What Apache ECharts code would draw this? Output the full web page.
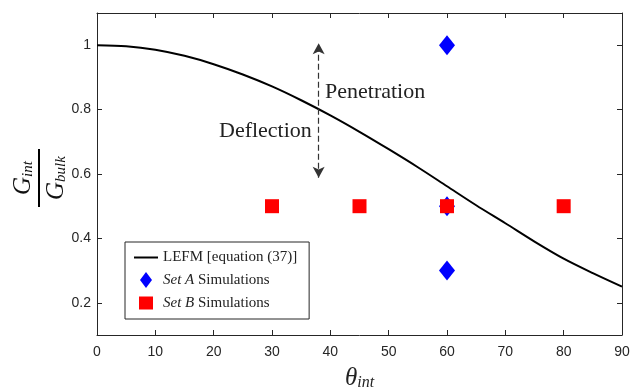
<!DOCTYPE html>
<html><head><meta charset="utf-8">
<script src="https://cdn.jsdelivr.net/npm/echarts@6/dist/echarts.min.js"></script>
<style>html,body{margin:0;padding:0;background:#fff}#c{width:631px;height:390px}</style>
</head><body><div id="c"></div>
<script>
const xTicks = [0,10,20,30,40,50,60,70,80,90];
const yTicks = [0.2,0.4,0.6,0.8,1.0];
const lefmTheta = [0,5,10,15,20,25,30,35,40,45,50,55,60,65,70,75,80,85,90];
const lefmValue = [1.000,0.997,0.986,0.967,0.941,0.909,0.872,0.829,0.782,0.731,0.677,0.621,0.562,0.503,0.447,0.390,0.337,0.292,0.250];
const setATheta = [60,60,60];
const setAValue = [1.0,0.5,0.3];
const setBTheta = [30,45,60,80];
const setBValue = [0.5,0.5,0.5,0.5];
const arrowTheta = 38;
const arrowTop = 1.006;
const arrowBottom = 0.588;

const serif = '"Liberation Serif","DejaVu Serif",serif';
const sans = '"Liberation Sans",Arial,sans-serif';
const axisCol = '#262626';

const chart = echarts.init(document.getElementById('c'), null, {renderer:'canvas'});
const zip = (a,b)=>a.map((v,i)=>[v,b[i]]);

const baseAxis = {
  axisLine:{show:true,onZero:false,lineStyle:{color:axisCol,width:1}},
  axisTick:{show:true,inside:true,length:5,lineStyle:{color:axisCol}},
  splitLine:{show:false}
};

chart.setOption({
  animation:false,
  backgroundColor:'#fff',
  grid:{left:97,right:9,top:13,bottom:55,containLabel:false,outerBoundsMode:'none'},
  xAxis:[
    Object.assign({}, baseAxis, {type:'value',min:0,max:90,interval:10,position:'bottom',
      axisLabel:{color:axisCol,fontFamily:sans,fontSize:14,margin:10,customValues:xTicks},
      axisTick:Object.assign({},baseAxis.axisTick,{customValues:xTicks}),
      name:'{t|θ}{s|int}',nameLocation:'middle',nameGap:28,
      nameTextStyle:{rich:{
        t:{fontFamily:serif,fontStyle:'italic',fontSize:25,color:'#222',verticalAlign:'bottom',lineHeight:28},
        s:{fontFamily:serif,fontStyle:'italic',fontSize:16,color:'#222',verticalAlign:'bottom',lineHeight:20}
      }}}),
    Object.assign({}, baseAxis, {type:'value',min:0,max:90,interval:10,position:'top',
      axisLabel:{show:false},
      axisTick:Object.assign({},baseAxis.axisTick,{customValues:xTicks})})
  ],
  yAxis:[
    Object.assign({}, baseAxis, {type:'value',min:0.1,max:1.1,interval:0.1,position:'left',
      axisLabel:{color:axisCol,fontFamily:sans,fontSize:14,margin:6,customValues:yTicks},
      axisTick:Object.assign({},baseAxis.axisTick,{customValues:yTicks})}),
    Object.assign({}, baseAxis, {type:'value',min:0.1,max:1.1,interval:0.1,position:'right',
      axisLabel:{show:false},
      axisTick:Object.assign({},baseAxis.axisTick,{customValues:yTicks})})
  ],
  legend:{
    orient:'vertical',left:125,top:242,
    backgroundColor:'#fff',borderColor:axisCol,borderWidth:1,borderRadius:0,
    padding:[8,12,8,9],itemGap:7,itemWidth:24,itemHeight:16,
    textStyle:{fontFamily:serif,fontSize:15,color:'#222',
      rich:{i:{fontFamily:serif,fontStyle:'italic',fontSize:15,color:'#222'},
            n:{fontFamily:serif,fontSize:15,color:'#222'}}},
    formatter:function(n){
      if(n==='A') return '{i|Set A} {n|Simulations}';
      if(n==='B') return '{i|Set B} {n|Simulations}';
      return n;
    },
    data:[
      {name:'LEFM [equation (37)]',icon:'path://M0,0 L24,0 L24,2 L0,2 Z',itemStyle:{color:'#000'}},
      {name:'A',icon:'path://M6,0L12,8L6,16L0,8Z',itemStyle:{color:'#0000ff'}},
      {name:'B',icon:'path://M0,0 M1,1.5H15V14.5H1Z M16,16',itemStyle:{color:'#ff0000'}}
    ]
  },
  series:[
    {name:'LEFM [equation (37)]',type:'line',data:zip(lefmTheta,lefmValue),smooth:0.3,
      symbol:'none',lineStyle:{color:'#000',width:2},itemStyle:{color:'#000'},z:2,
      markLine:{silent:true,symbol:['arrow','arrow'],symbolSize:[9,11],
        lineStyle:{color:'#333',type:[6,3],width:1.2},label:{show:false},
        data:[[{coord:[arrowTheta,arrowBottom]},{coord:[arrowTheta,arrowTop]}]]}},
    {name:'A',type:'scatter',data:zip(setATheta,setAValue),symbol:'diamond',symbolSize:[16,20],
      itemStyle:{color:'#0000ff',opacity:1},z:3},
    {name:'B',type:'scatter',data:zip(setBTheta,setBValue),symbol:'rect',symbolSize:14,
      itemStyle:{color:'#ff0000',opacity:1},z:4}
  ],
  graphic:[
    {type:'text',left:325,top:81,style:{text:'Penetration',font:'22px '+serif,fill:'#222'}},
    {type:'text',left:219,top:120,style:{text:'Deflection',font:'22px '+serif,fill:'#222'}},
    {type:'group',x:39,y:178,rotation:Math.PI/2,children:[
      {type:'line',shape:{x1:-29,y1:0,x2:29,y2:0},style:{stroke:'#000',lineWidth:2}},
      {type:'text',x:0,y:-3,style:{text:'{g|G}{s|int}',align:'center',verticalAlign:'bottom',
        rich:{g:{font:'italic 25px '+serif,fill:'#111',verticalAlign:'bottom',lineHeight:26},
              s:{font:'italic 15px '+serif,fill:'#111',verticalAlign:'bottom',lineHeight:18}}}},
      {type:'text',x:0,y:4,style:{text:'{g|G}{s|bulk}',align:'center',verticalAlign:'top',
        rich:{g:{font:'italic 25px '+serif,fill:'#111',verticalAlign:'bottom',lineHeight:26},
              s:{font:'italic 15px '+serif,fill:'#111',verticalAlign:'bottom',lineHeight:18}}}}
    ]}
  ]
});
</script></body></html>
